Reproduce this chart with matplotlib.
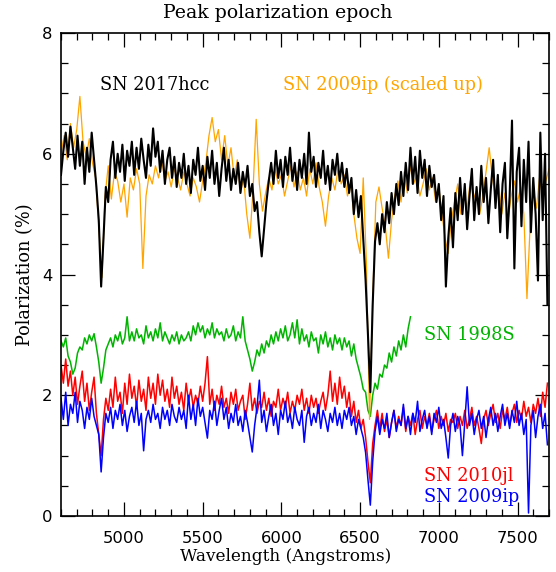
#!/usr/bin/env python3
import numpy as np
import matplotlib
matplotlib.use("Agg")
import matplotlib.pyplot as plt
from matplotlib.ticker import MultipleLocator

# --- Data (wavelength in Angstroms, polarization in %) ---
START_WL = 4600
STEP_BLACK = 15
STEP_ORANGE = 20
STEP_OTHER = 15

# SN 2017hcc
pol_2017hcc = [
    5.65, 6.05, 6.35, 5.95, 6.45, 6.1, 5.75, 6.3, 5.8, 6.2,
    5.5, 6.1, 5.7, 6.35, 5.9, 5.45, 4.9, 3.8, 4.6, 5.45,
    5.2, 5.9, 6.2, 5.6, 6.0, 5.7, 6.15, 5.55, 6.05, 5.8,
    6.2, 5.65, 6.1, 5.75, 6.25, 5.9, 5.6, 6.15, 5.8, 6.42,
    5.95, 6.2, 5.7, 6.05, 5.5, 5.9, 6.1, 5.6, 5.95, 5.45,
    5.85, 5.6, 6.0, 5.5, 5.8, 5.35, 5.9, 5.65, 6.1, 5.55,
    5.8, 5.4, 5.95, 5.6, 6.05, 5.5, 5.85, 5.3, 5.75, 6.1,
    5.55, 5.9, 5.4, 5.75, 5.5, 5.85, 5.35, 5.7, 5.45, 5.8,
    5.3, 5.5, 5.05, 5.2, 4.7, 4.3, 4.75, 5.2, 5.55, 5.85,
    5.5, 6.05, 5.6, 5.9, 5.45, 5.95, 5.65, 6.1, 5.55, 5.85,
    5.4, 5.9, 5.6, 6.0, 5.5, 6.35, 5.7, 5.95, 5.45, 5.85,
    5.6, 6.05, 5.5, 5.8, 5.4, 5.9, 5.65, 6.0, 5.55, 5.85,
    5.45, 5.75, 5.35, 5.6, 5.0, 5.4, 4.95, 5.3, 4.6, 3.9,
    3.0, 2.05, 3.5, 4.55, 4.85, 4.5, 5.0, 4.7, 5.2, 4.85,
    5.35, 5.0, 5.5, 5.15, 5.7, 5.3, 5.85, 5.4, 6.1, 5.5,
    5.95, 5.35, 6.05, 5.6, 5.9, 5.3, 5.8, 5.45, 5.65, 5.2,
    5.5, 4.9, 5.3, 3.8, 4.6, 5.1, 4.45, 5.35, 4.9, 5.6,
    5.0, 5.5, 4.75, 5.3, 5.75, 4.9, 5.45, 5.0, 5.8, 5.2,
    5.6, 4.85, 5.4, 5.9, 5.1, 5.65, 4.7, 5.5, 5.85, 4.6,
    5.3, 6.55, 4.1, 5.7, 6.1, 4.8, 5.9, 5.2, 6.2, 4.7,
    5.6, 5.0, 3.9, 6.35, 4.9, 6.0, 3.5,
]

# SN 2009ip, scaled up
pol_2009ip_scaled = [
    6.0, 6.3, 5.9, 6.5, 6.1, 6.4, 6.95, 6.2, 5.95, 6.25,
    5.85, 5.6, 4.8, 3.95, 5.3, 5.8, 5.25, 5.7, 5.55, 5.2,
    5.5, 4.95, 5.6, 5.4, 5.75, 5.5, 4.1, 5.3, 5.65, 5.5,
    5.8, 5.6, 5.9, 5.55, 5.7, 5.45, 5.75, 5.6, 5.4, 5.7,
    5.5, 5.3, 5.6, 5.45, 5.2, 5.55, 5.85, 6.3, 6.6, 6.2,
    6.4, 5.9, 6.3, 5.8, 6.1, 5.6, 5.9, 5.35, 5.6, 5.0,
    4.6, 5.4, 6.57, 5.5, 5.05, 5.35, 5.6, 5.4, 5.75, 5.5,
    5.65, 5.3, 5.55, 5.8, 5.45, 5.7, 5.4, 5.6, 5.3, 5.75,
    5.5, 5.85, 5.45, 5.2, 4.8, 5.3, 5.6, 5.4, 5.75, 5.5,
    5.65, 5.3, 5.5, 5.0, 4.6, 4.35, 5.6, 4.2, 1.6, 3.6,
    5.2, 5.45, 5.1, 4.8, 4.27, 4.9, 5.3, 5.55, 5.2, 5.7,
    5.35, 5.8, 5.5, 5.65, 5.3, 5.5, 5.75, 5.4, 5.6, 5.2,
    5.45, 5.0, 4.6, 4.35, 4.9, 5.2, 5.5, 5.0, 5.35, 5.1,
    5.55, 5.25, 5.4, 5.0, 5.3, 5.7, 6.1, 5.6, 5.3, 5.5,
    5.0, 5.35, 4.9, 5.3, 5.55, 5.2, 5.45, 5.0, 3.6, 4.8,
    5.4, 5.1, 5.6, 5.3, 5.55, 5.75,
]

# SN 1998S
pol_1998S = [
    2.9, 2.8, 2.95, 2.65, 2.55, 2.35, 2.45, 2.7, 2.8, 2.75,
    2.95, 2.85, 3.0, 2.9, 3.02, 2.8, 2.55, 2.2, 2.45, 2.75,
    2.85, 2.95, 2.8, 3.0, 2.9, 3.05, 2.85, 2.95, 3.3, 2.9,
    3.05, 2.9, 3.1, 2.95, 3.0, 2.85, 3.15, 2.95, 3.05, 2.9,
    3.1, 2.95, 3.2, 2.9, 3.05, 2.95, 2.85, 3.0, 2.9, 3.05,
    2.85, 3.0, 2.9, 2.95, 3.05, 2.9, 3.15, 3.0, 3.2, 3.05,
    3.15, 2.95, 3.1, 3.0, 3.2, 2.95, 3.1, 3.0, 3.05, 2.9,
    3.1, 2.95, 3.0, 3.15, 2.9, 3.05, 2.95, 3.3, 2.9, 2.75,
    2.6, 2.4, 2.55, 2.75, 2.65, 2.85, 2.7, 2.9, 2.8, 3.0,
    2.85, 3.05, 2.9, 3.1, 2.95, 3.15, 2.9, 3.0, 3.2, 2.95,
    3.25, 2.85, 3.1, 2.9, 3.0, 2.8, 3.05, 2.9, 2.95, 2.7,
    3.0, 2.85, 3.05, 2.8, 2.95, 2.75, 3.0, 2.85, 2.95, 2.75,
    2.95, 2.8, 2.9, 2.65, 2.85, 2.6, 2.45, 2.3, 2.1, 2.05,
    1.75, 1.65, 2.0, 2.2, 2.1, 2.35, 2.3, 2.5, 2.45, 2.7,
    2.55, 2.8, 2.65, 2.9, 2.75, 3.0, 2.8, 3.1, 3.3,
]

# SN 2010jl
pol_2010jl = [
    2.5, 2.2, 2.6, 2.15, 2.4, 2.0, 2.3, 1.85, 2.15, 2.4,
    1.9, 2.2, 1.75, 2.05, 2.3, 1.7, 1.35, 1.0, 1.6, 1.95,
    1.75, 2.1, 1.8, 2.3, 1.9, 2.05, 1.7, 2.2, 1.85, 2.35,
    1.95, 2.15, 1.8, 2.25, 1.9, 2.1, 1.75, 2.3, 1.95, 2.2,
    1.85, 2.35, 2.0, 2.25, 1.9, 2.1, 1.8, 2.3, 1.95, 2.15,
    1.85, 2.05, 1.75, 2.2, 1.9, 2.1, 1.8, 2.0, 1.85, 2.15,
    1.9, 2.2, 2.64, 1.85, 2.1, 1.75, 2.0, 1.85, 2.15, 1.8,
    1.95, 1.7, 2.05, 1.85, 2.1, 1.75, 1.9, 2.0, 1.6, 1.85,
    2.2, 1.75, 1.95, 1.7, 1.9, 1.8, 2.05, 1.75, 1.95, 1.65,
    1.9, 1.8, 2.1, 1.75, 1.95, 1.8, 2.05, 1.7, 1.9, 1.75,
    2.0, 1.85, 2.1, 1.75, 1.95, 1.7, 2.0, 1.8, 1.95, 1.7,
    1.9, 2.05, 1.75, 2.0, 2.4, 1.9, 2.2, 1.85, 2.3, 1.95,
    2.15, 1.8, 2.05, 1.65, 1.9, 1.55, 1.75, 1.45, 1.6, 1.3,
    0.9, 0.55, 1.2, 1.5, 1.75, 1.45, 1.7, 1.4, 1.6, 1.3,
    1.55, 1.75, 1.45, 1.65, 1.5, 1.8, 1.4, 1.65, 1.5, 1.7,
    1.35, 1.6, 1.75, 1.45, 1.65, 1.5, 1.7, 1.4, 1.6, 1.75,
    1.45, 1.65, 1.5, 1.7, 1.4, 1.6, 1.55, 1.7, 1.45, 1.65,
    1.5, 1.75, 1.45, 1.6, 1.8, 1.5, 1.65, 1.45, 1.2, 1.6,
    1.75, 1.5, 1.7, 1.85, 1.55, 1.7, 1.45, 1.75, 1.6, 1.8,
    1.5, 1.7, 1.85, 1.55, 1.75, 1.6, 1.9, 1.65, 1.8, 1.55,
    1.85, 1.7, 1.95, 1.65, 2.05, 1.8, 2.2,
]

# SN 2009ip
pol_2009ip = [
    1.95, 1.6, 2.05, 1.5, 1.85, 1.7, 2.05, 1.55, 1.9, 1.75,
    1.45, 1.8, 1.6, 1.95, 1.65, 1.5, 1.35, 0.73, 1.3, 1.7,
    1.55, 1.8, 1.45, 1.75, 1.6, 1.85, 1.5, 1.75, 1.4, 1.65,
    1.8, 1.55, 1.9, 1.5, 1.7, 1.08, 1.6, 1.75, 1.55, 1.85,
    1.6, 1.7, 1.45, 1.8, 1.6, 1.75, 1.5, 1.85, 1.65, 1.55,
    1.8, 1.6, 1.75, 1.45, 2.0, 1.6, 1.85, 1.5, 1.95, 1.65,
    1.8, 1.55, 1.29, 1.75, 1.6, 1.9, 1.5, 1.75, 1.95, 1.6,
    1.8, 1.45, 1.7, 1.55, 1.85, 1.5, 1.65, 1.4, 1.75, 1.55,
    1.3, 1.06, 1.5, 1.8, 2.25, 1.55, 1.75, 1.4, 1.65, 1.85,
    1.5, 1.7, 1.35, 1.75, 1.6, 1.9, 1.55, 1.7, 1.45, 1.8,
    1.6, 1.5, 1.75, 1.22, 1.65, 1.8, 1.5, 1.7, 1.55, 1.85,
    1.45, 1.75, 1.6, 1.4, 1.7, 1.55, 1.8, 1.5, 1.7, 1.45,
    1.75, 1.6, 1.8, 1.5, 1.65, 1.35, 1.6, 1.45, 1.3, 1.05,
    0.6, 0.18, 0.9, 1.4, 1.65, 1.35, 1.6, 1.45, 1.7, 1.3,
    1.55, 1.75, 1.4, 1.6, 1.5, 1.85, 1.45, 1.65, 1.35, 1.7,
    1.55, 1.9, 1.4, 1.6, 1.75, 1.45, 1.65, 1.35, 1.7, 1.55,
    1.8, 1.45, 1.6, 1.3, 0.96, 1.5, 1.7, 1.4, 1.65, 1.5,
    1.0, 1.55, 2.14, 1.5, 1.7, 1.35, 1.6, 1.75, 1.45, 1.65,
    1.3, 1.6, 1.8, 1.5, 1.7, 1.4, 1.65, 1.85, 1.5, 1.7,
    1.45, 1.75, 1.55, 1.9, 1.5, 1.7, 1.35, 1.6, 0.05, 1.5,
    1.75, 1.3, 1.65, 1.85, 1.45, 1.7, 1.18,
]

SERIES = [
    # (values, step, colour, linewidth, label, label position in data coords)
    (pol_1998S, STEP_OTHER, "#00b400", 1.1, "SN 1998S", (6905, 3.0)),
    (pol_2010jl, STEP_OTHER, "#ff0000", 1.1, "SN 2010jl", (6905, 0.66)),
    (pol_2009ip, STEP_OTHER, "#0000ff", 1.1, "SN 2009ip", (6905, 0.31)),
    (pol_2009ip_scaled, STEP_ORANGE, "#ffa500", 0.9,
     "SN 2009ip (scaled up)", (6011, 7.14)),
    (pol_2017hcc, STEP_BLACK, "black", 1.5, "SN 2017hcc", (4848, 7.14)),
]

SERIF = "DejaVu Serif"


def desenhar_grafico(nome_arquivo: str) -> None:
    fig = plt.figure(figsize=(5.56, 5.72), dpi=100)
    ax = fig.add_axes([0.1097, 0.0979, 0.8777, 0.8444])

    for valores, passo, cor, lw, rotulo, (tx, ty) in SERIES:
        valores = np.asarray(valores)
        wl = START_WL + passo * np.arange(len(valores))
        ax.plot(wl, valores, color=cor, lw=lw)
        ax.text(tx, ty, rotulo, color=cor, fontsize=12.8, family=SERIF,
                ha="left", va="center")

    ax.set_xlim(4600, 7700)
    ax.set_ylim(0, 8)
    ax.xaxis.set_major_locator(MultipleLocator(500))
    ax.xaxis.set_minor_locator(MultipleLocator(100))
    ax.yaxis.set_major_locator(MultipleLocator(2))
    ax.yaxis.set_minor_locator(MultipleLocator(0.5))
    ax.tick_params(which="both", direction="in", top=True, right=True,
                   width=0.9, labelsize=11.8)
    ax.tick_params(which="major", length=10)
    ax.tick_params(which="minor", length=5)
    ax.tick_params(axis="x", pad=11)
    ax.tick_params(axis="y", pad=6)
    for lado in ax.spines.values():
        lado.set_linewidth(1.2)

    # the title sits on the figure centre, not on the axes centre
    fig.text(0.5, 0.977, "Peak polarization epoch", fontsize=13.6,
             family=SERIF, ha="center", va="center")
    ax.set_xlabel("Wavelength (Angstroms)", fontsize=12.2, family=SERIF)
    ax.xaxis.set_label_coords(0.461, -0.083, transform=ax.transAxes)
    ax.xaxis.label.set_va("center")
    ax.set_ylabel("Polarization (%)", fontsize=12.8, family=SERIF,
                  labelpad=6)

    fig.savefig(nome_arquivo, dpi=100)
    plt.close(fig)


if __name__ == "__main__":
    desenhar_grafico("out.png")
